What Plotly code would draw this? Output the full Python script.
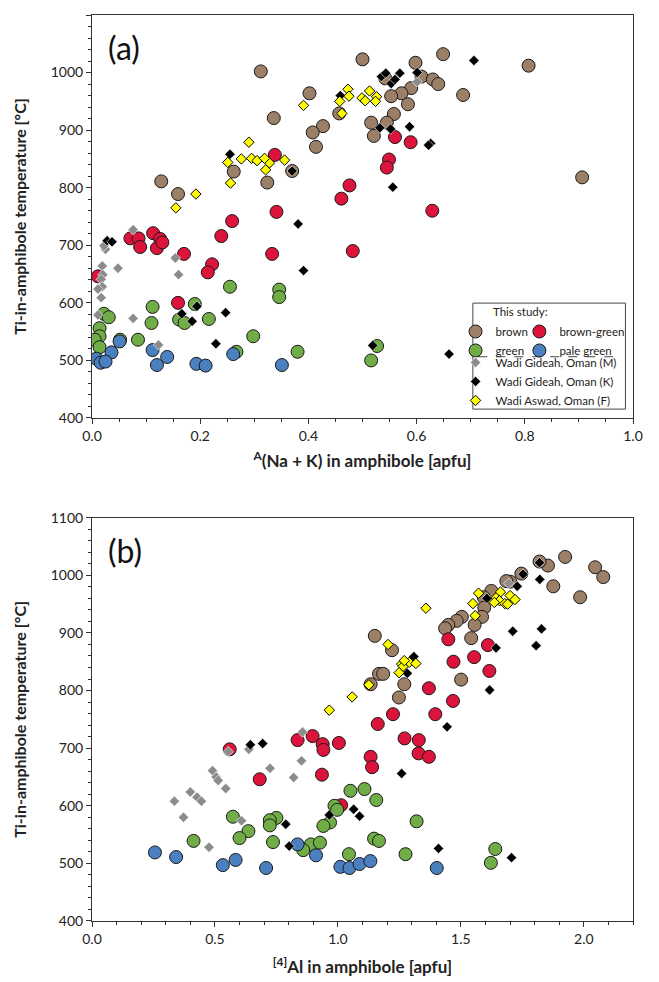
import plotly.graph_objects as go

# ---------------- panel (a): A(Na+K) vs T ----------------
a_brown_x = [0.128, 0.159, 0.262, 0.324, 0.312, 0.500, 0.649, 0.598, 0.542, 0.609, 0.630, 0.640,
             0.590, 0.572, 0.553, 0.584, 0.402, 0.686, 0.336, 0.457, 0.558, 0.516, 0.545, 0.427,
             0.408, 0.521, 0.414, 0.370, 0.807, 0.906]
a_brown_y = [811, 789, 828, 809, 1002, 1023, 1032, 1017, 990, 993, 988, 980,
             973, 964, 959, 945, 964, 961, 921, 929, 928, 913, 913, 907,
             896, 890, 871, 829, 1012, 818]

a_red_x = [0.341, 0.259, 0.239, 0.113, 0.071, 0.086, 0.126, 0.089, 0.120, 0.130, 0.170, 0.333,
           0.222, 0.214, 0.011, 0.159, 0.461, 0.629, 0.482, 0.338, 0.560, 0.589, 0.549, 0.545, 0.476]
a_red_y = [758, 742, 716, 721, 712, 712, 711, 697, 695, 705, 685, 685,
           667, 653, 646, 600, 781, 760, 690, 857, 888, 879, 849, 835, 804]

a_green_x = [0.255, 0.112, 0.190, 0.346, 0.346, 0.022, 0.031, 0.110, 0.161, 0.171, 0.216, 0.298,
             0.014, 0.014, 0.005, 0.014, 0.052, 0.085, 0.267, 0.380, 0.527, 0.516]
a_green_y = [628, 593, 598, 623, 610, 581, 575, 565, 571, 565, 572, 542,
             556, 542, 536, 523, 536, 536, 515, 515, 525, 500]

a_blue_x = [0.051, 0.036, 0.008, 0.016, 0.025, 0.112, 0.139, 0.120, 0.193, 0.210, 0.261, 0.351]
a_blue_y = [533, 514, 503, 496, 498, 518, 506, 492, 494, 491, 511, 492]

a_gideah_m_x = [0.076, 0.025, 0.022, 0.154, 0.019, 0.048, 0.160, 0.020, 0.017, 0.019, 0.011, 0.017,
                0.011, 0.076, 0.123, 0.601]
a_gideah_m_y = [727, 693, 699, 678, 664, 660, 649, 649, 641, 628, 624, 609,
                579, 573, 527, 984]

a_gideah_k_x = [0.028, 0.037, 0.166, 0.185, 0.194, 0.247, 0.229, 0.381, 0.391, 0.519, 0.660, 0.255,
                0.459, 0.535, 0.543, 0.553, 0.560, 0.569, 0.601, 0.706, 0.532, 0.552, 0.587, 0.626,
                0.622, 0.556, 0.370]
a_gideah_k_y = [708, 706, 581, 568, 594, 583, 529, 737, 656, 526, 511, 858,
                960, 993, 999, 981, 988, 999, 1000, 1021, 904, 902, 906, 877,
                874, 801, 829]

a_aswad_x = [0.251, 0.256, 0.192, 0.155, 0.321, 0.328, 0.391, 0.458, 0.462, 0.473, 0.475, 0.499,
             0.505, 0.513, 0.526, 0.524, 0.290, 0.276, 0.295, 0.305, 0.319, 0.356]
a_aswad_y = [844, 808, 789, 765, 831, 843, 943, 950, 929, 971, 959, 956,
             951, 968, 958, 950, 879, 850, 851, 847, 851, 848]

# ---------------- panel (b): [4]Al vs T ----------------
b_brown_x = [1.220, 1.167, 1.184, 1.133, 1.270, 1.248, 1.501, 1.924, 1.854, 1.820, 2.046, 2.079,
             1.876, 1.985, 1.746, 1.701, 1.685, 1.624, 1.593, 1.595, 1.586, 1.504, 1.483, 1.449,
             1.436, 1.556, 1.542, 1.150]
b_brown_y = [870, 829, 829, 811, 811, 788, 819, 1032, 1017, 1024, 1014, 997,
             981, 962, 1003, 989, 990, 973, 962, 944, 928, 928, 921, 914,
             908, 914, 891, 895]

b_red_x = [0.560, 0.836, 0.897, 0.682, 1.470, 1.554, 1.616, 1.370, 1.468, 1.396, 1.224, 1.162,
           0.938, 0.941, 1.004, 1.271, 1.329, 1.328, 1.370, 1.133, 1.139, 0.935, 1.013, 1.449, 1.610]
b_red_y = [698, 714, 721, 646, 850, 858, 834, 804, 782, 759, 759, 742,
           707, 697, 709, 717, 714, 691, 685, 685, 667, 654, 601, 889, 879]

b_green_x = [0.573, 0.750, 0.723, 0.723, 0.636, 0.600, 0.413, 0.736, 0.890, 0.859, 1.051, 1.108,
             1.156, 0.986, 0.997, 0.968, 0.941, 1.320, 1.147, 1.167, 0.927, 1.045, 1.275, 1.640, 1.622]
b_green_y = [581, 579, 575, 566, 556, 544, 539, 537, 533, 523, 626, 629,
             610, 600, 593, 571, 565, 573, 543, 539, 536, 516, 516, 525, 501]

b_blue_x = [0.256, 0.342, 0.532, 0.584, 0.708, 0.836, 0.911, 1.010, 1.047, 1.088, 1.132, 1.402]
b_blue_y = [519, 511, 497, 506, 492, 533, 514, 494, 492, 499, 504, 492]

b_gideah_m_x = [0.554, 0.638, 0.856, 0.724, 0.852, 0.820, 0.490, 0.505, 0.513, 0.544, 0.400, 0.427,
                0.445, 0.335, 0.372, 0.608, 0.476, 1.695]
b_gideah_m_y = [694, 698, 728, 665, 678, 649, 661, 650, 644, 630, 624, 615,
                608, 608, 580, 574, 528, 986]

b_gideah_k_x = [0.644, 0.694, 0.788, 0.802, 1.309, 1.282, 1.617, 1.444, 1.259, 1.064, 1.088, 0.965,
                1.409, 1.706, 1.820, 1.753, 1.729, 1.821, 1.606, 1.711, 1.828, 1.643, 1.806]
b_gideah_k_y = [706, 708, 568, 530, 859, 830, 801, 737, 656, 594, 582, 584,
                526, 510, 1022, 1002, 981, 993, 960, 903, 907, 874, 878]

b_aswad_x = [1.126, 1.058, 0.965, 1.259, 1.265, 1.290, 1.317, 1.249, 1.270, 1.358, 1.572, 1.549,
             1.661, 1.643, 1.657, 1.636, 1.679, 1.558, 1.204, 1.700, 1.720, 1.690]
b_aswad_y = [810, 789, 766, 846, 842, 849, 847, 831, 852, 943, 969, 951,
             971, 961, 956, 953, 951, 930, 880, 965, 958, 950]

# (name, colour, legend, panel a x/y, panel b x/y)
study = [
    ('brown', '#9C7F67', 'legend', a_brown_x, a_brown_y, b_brown_x, b_brown_y),
    ('brown-green', '#DC143C', 'legend3', a_red_x, a_red_y, b_red_x, b_red_y),
    ('green', '#70AD47', 'legend', a_green_x, a_green_y, b_green_x, b_green_y),
    ('pale green', '#4A80C0', 'legend3', a_blue_x, a_blue_y, b_blue_x, b_blue_y),
]
literature = [
    ('Wadi Gideah, Oman (M)', '#8C8C8C', 'white', 0.6, a_gideah_m_x, a_gideah_m_y, b_gideah_m_x, b_gideah_m_y),
    ('Wadi Gideah, Oman (K)', 'black', 'white', 0.6, a_gideah_k_x, a_gideah_k_y, b_gideah_k_x, b_gideah_k_y),
    ('Wadi Aswad, Oman (F)', '#FFFF00', 'black', 1, a_aswad_x, a_aswad_y, b_aswad_x, b_aswad_y),
]

fig = go.Figure()

for name, col, leg, ax, ay, bx, by in study:
    mk = dict(symbol='circle', size=13, color=col, line=dict(color='#1a1a1a', width=1))
    fig.add_trace(go.Scatter(x=ax, y=ay, mode='markers', name=name, marker=mk,
                             xaxis='x', yaxis='y', legend=leg))
    fig.add_trace(go.Scatter(x=bx, y=by, mode='markers', name=name, marker=mk,
                             xaxis='x2', yaxis='y2', showlegend=False))

for name, col, lcol, lw, ax, ay, bx, by in literature:
    mk = dict(symbol='diamond', size=8, color=col, line=dict(color=lcol, width=lw))
    fig.add_trace(go.Scatter(x=ax, y=ay, mode='markers', name=name, marker=mk,
                             xaxis='x', yaxis='y', legend='legend2'))
    fig.add_trace(go.Scatter(x=bx, y=by, mode='markers', name=name, marker=mk,
                             xaxis='x2', yaxis='y2', showlegend=False))

font = 'Lato, Open Sans, sans-serif'
axis_common = dict(showline=True, linecolor='#333333', linewidth=1, mirror=True, automargin=False,
                   showgrid=False, zeroline=False, ticks='outside', ticklen=5,
                   tickcolor='#333333', tickfont=dict(size=14, color='#222'))
minor_y = dict(dtick=20, ticks='outside', ticklen=3, tickcolor='#333333')

ytitle = dict(text='<b>Ti-in-amphibole temperature [°C]</b>', font=dict(size=16, color='#222'), standoff=20)
leg_common = dict(xanchor='left', yanchor='top', orientation='v', bgcolor='rgba(0,0,0,0)',
                  font=dict(size=11.5, color='#222'), itemwidth=30, tracegroupgap=0, borderwidth=0)

# the page body adds an 8 px offset, so margins are shifted to compensate
fig.update_layout(
    template='none',
    width=659, height=982,
    paper_bgcolor='white', plot_bgcolor='white',
    font=dict(family=font, color='#222'),
    margin=dict(l=84, r=34, t=7, b=69, autoexpand=False),
    showlegend=True,
    xaxis=dict(axis_common, domain=[0, 1], anchor='y', range=[0, 1.0], dtick=0.2, tickformat='.1f',
               minor=dict(dtick=0.05, ticks='outside', ticklen=3, tickcolor='#333333'),
               title=dict(text='<b><sup>A</sup>(Na + K) in amphibole [apfu]</b>',
                          font=dict(size=17, color='#222'), standoff=12)),
    yaxis=dict(axis_common, domain=[0.5552, 1], anchor='x', range=[400, 1100], dtick=100,
               minor=minor_y, title=ytitle),
    xaxis2=dict(axis_common, domain=[0, 1], anchor='y2', range=[0, 2.2], tickvals=[0, 0.5, 1.0, 1.5, 2.0],
                tickformat='.1f',
                minor=dict(dtick=0.1, ticks='outside', ticklen=3, tickcolor='#333333'),
                title=dict(text='<b><sup>[4]</sup>Al in amphibole [apfu]</b>',
                           font=dict(size=17, color='#222'), standoff=15)),
    yaxis2=dict(axis_common, domain=[0, 0.4451], anchor='x2', range=[400, 1100], dtick=100,
                minor=minor_y, title=ytitle),
    legend=dict(leg_common, x=0.672, y=0.6667),
    legend3=dict(leg_common, x=0.790, y=0.6667),
    legend2=dict(leg_common, x=0.672, y=0.6325),
    shapes=[
        dict(type='rect', xref='paper', yref='paper', x0=0.704, x1=0.986, y0=0.565, y1=0.682,
             line=dict(color='#444', width=1), fillcolor='rgba(0,0,0,0)'),
        dict(type='line', xref='paper', yref='paper', x0=0.714, x1=0.975, y0=0.6228, y1=0.6228,
             line=dict(color='#444', width=1, dash='dash')),
    ],
    annotations=[
        dict(text='(a)', x=0.026, y=0.972, xref='x domain', yref='y domain', xanchor='left',
             yanchor='top', showarrow=False, font=dict(size=32, color='#111')),
        dict(text='(b)', x=0.026, y=0.972, xref='x2 domain', yref='y2 domain', xanchor='left',
             yanchor='top', showarrow=False, font=dict(size=32, color='#111')),
        dict(text='This study:', x=0.737, y=0.6725, xref='paper', yref='paper', xanchor='left',
             yanchor='middle', showarrow=False, font=dict(size=11.5, color='#222')),
    ],
)

fig.write_html('out.html')
